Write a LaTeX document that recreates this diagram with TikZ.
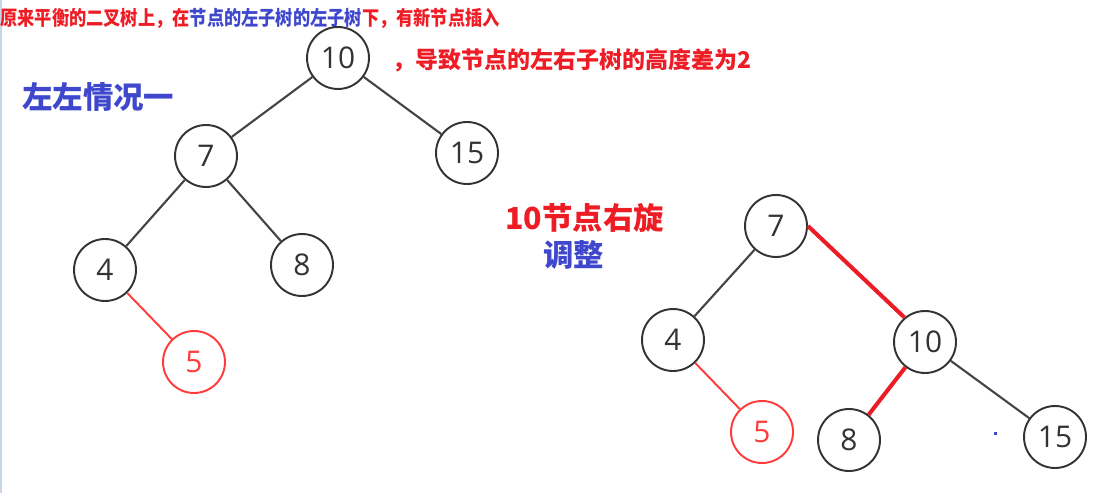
\documentclass[tikz,border=0pt]{standalone}
\usepackage{fontspec}
\newfontfamily\cjk{Noto Sans CJK SC}
\newfontfamily\cjknarrow{Noto Sans CJK SC}[FakeStretch=0.86]
\newfontfamily\numfont{Open Sans}
\definecolor{txtred}{HTML}{EE1C24}
\definecolor{txtblue}{HTML}{3F48CC}
\definecolor{ringgray}{HTML}{333333}
\definecolor{edgegray}{HTML}{444444}
\definecolor{newred}{HTML}{FF3B3B}
\definecolor{rotred}{HTML}{EC1C24}
\definecolor{bordblue}{HTML}{C9D6E8}

\begin{document}
\begin{tikzpicture}[x=0.02cm, y=-0.02cm,
    treenode/.style={circle, draw=ringgray, line width=1.1pt, minimum size=1.24cm, inner sep=0pt, text=ringgray, font=\numfont\fontsize{17}{17}\selectfont},
    newnode/.style={treenode, draw=newred, text=newred},
    branch/.style={draw=edgegray, line width=1.2pt},
    newbranch/.style={draw=newred, line width=1.1pt},
    rotbranch/.style={draw=rotred, line width=2.3pt},
    note/.style={inner sep=0pt, anchor=west, font=\cjk\bfseries}]
        \useasboundingbox (0, 0) rectangle (1101, 493);
        \draw[bordblue, line width=0.6pt] (1, 0) -- (1, 493);

        \node[note, text=txtred, font=\cjknarrow\bfseries\fontsize{11.4}{12}\selectfont] (title) at (0, 18) {原来平衡的二叉树上，在\textcolor{txtblue}{节点的左子树的左子树}下，有新节点插入};
        \node[note, text=txtred, font=\cjk\bfseries\fontsize{13.1}{14}\selectfont] (cause) at (392, 60) {，导致节点的左右子树的高度差为2};
        \node[note, text=txtblue, font=\cjk\bfseries\fontsize{17.3}{18}\selectfont] (case) at (22, 97) {左左情况一};
        \node[note, text=txtred, font=\cjk\bfseries\fontsize{17.3}{18}\selectfont] (rot) at (505, 218) {10节点右旋};
        \node[note, text=txtblue, font=\cjk\bfseries\fontsize{17.3}{18}\selectfont] (adj) at (543, 255) {调整};

        \node[treenode] (a10) at (338, 58) {10};
        \node[treenode] (a7) at (206, 156) {7};
        \node[treenode] (a15) at (467, 153) {15};
        \node[treenode] (a4) at (105, 270) {4};
        \node[treenode] (a8) at (302, 265) {8};
        \node[newnode] (a5) at (194, 362) {5};
        \draw[branch] (a10) -- (a7);
        \draw[branch] (a10) -- (a15);
        \draw[branch] (a7) -- (a4);
        \draw[branch] (a7) -- (a8);
        \draw[newbranch] (a4) -- (a5);

        \node[treenode] (b7) at (776, 226) {7};
        \node[treenode] (b4) at (673, 340) {4};
        \node[treenode] (b10) at (925, 342) {10};
        \node[newnode] (b5) at (762, 432) {5};
        \node[treenode] (b8) at (849, 440) {8};
        \node[treenode] (b15) at (1055, 437) {15};
        \draw[branch] (b7) -- (b4);
        \draw[rotbranch] (b7.east) -- (b10.130);
        \draw[rotbranch] (b10) -- (b8);
        \draw[branch] (b10) -- (b15);
        \draw[newbranch] (b4) -- (b5);
        \fill[txtblue] (994, 432) rectangle (997, 435);
    \end{tikzpicture}
\end{document}
